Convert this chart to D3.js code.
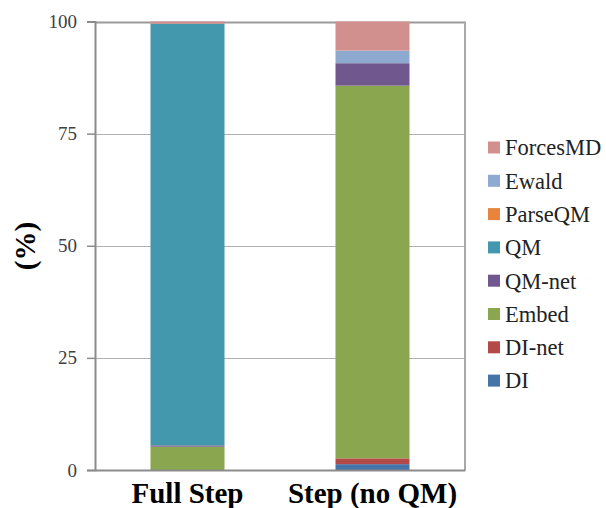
<!DOCTYPE html>
<html><head><meta charset="utf-8">
<script src="https://d3js.org/d3.v7.min.js"></script>
<style>body{margin:0;background:#fff}</style></head>
<body><svg id="c" width="606" height="508"></svg>
<script>
const categories = ["Full Step", "Step (no QM)"];
const seriesNames = ["DI", "DI-net", "Embed", "QM-net", "QM", "ParseQM", "Ewald", "ForcesMD"];
const DI       = [0.0, 1.3];
const DInet    = [0.0, 1.3];
const Embed    = [5.2, 83.1];
const QMnet    = [0.3, 5.0];
const QM       = [94.0, 0.0];
const ParseQM  = [0.0, 0.0];
const Ewald    = [0.0, 2.8];
const ForcesMD = [0.5, 6.5];
const yTicks = [0, 25, 50, 75, 100];
const colors = ["#4574a8", "#b34a47", "#8aa64f", "#70578d", "#4398ae", "#e8843c", "#8faad0", "#d18f8e"];

const seriesVals = [DI, DInet, Embed, QMnet, QM, ParseQM, Ewald, ForcesMD];
const rows = categories.map((c, i) => {
  const r = {cat: c};
  seriesNames.forEach((s, k) => r[s] = seriesVals[k][i]);
  return r;
});
const stack = d3.stack().keys(seriesNames)(rows);

const FONT = '"Liberation Serif"';
const svg = d3.select("#c");
const L = 95, R = 465, T = 21.5, B = 470;
const x = d3.scaleBand().domain(categories).range([L, R]);
const y = d3.scaleLinear().domain([0, 100]).range([B, T]);

svg.append("g").selectAll("line").data(yTicks.filter(t => t > 0)).join("line")
  .attr("x1", L).attr("x2", R).attr("y1", d => Math.round(y(d)) + 0.5).attr("y2", d => Math.round(y(d)) + 0.5)
  .attr("stroke", d => d === 100 ? "#9a9a9a" : "#b0b0b0").attr("stroke-width", d => d === 100 ? 2 : 1);
svg.append("line").attr("x1", R).attr("x2", R).attr("y1", T).attr("y2", B)
  .attr("stroke", "#a8a8a8").attr("stroke-width", 2);

const bw = x.bandwidth() * 0.4;
svg.append("g").selectAll("g").data(stack).join("g")
  .attr("fill", (d, i) => colors[i])
  .selectAll("rect").data(d => d).join("rect")
  .attr("x", d => x(d.data.cat) + (x.bandwidth() - bw) / 2)
  .attr("width", bw)
  .attr("y", d => y(d[1]))
  .attr("height", d => Math.max(0, y(d[0]) - y(d[1])));

const ya = svg.append("g").attr("transform", `translate(${L},0)`)
  .call(d3.axisLeft(y).tickValues(yTicks).tickSize(8).tickPadding(10));
ya.select(".domain").attr("stroke", "#8c8c8c").attr("stroke-width", 2);
ya.selectAll(".tick line").attr("stroke", "#8c8c8c").attr("stroke-width", 1.5);
ya.selectAll("text").style("font-family", FONT).style("font-size", "19px").attr("fill", "#404040");

const xa = svg.append("g").attr("transform", `translate(0,${B})`)
  .call(d3.axisBottom(x).tickSize(0).tickPadding(12));
xa.select(".domain").attr("stroke", "#8c8c8c").attr("stroke-width", 2);
xa.selectAll("text").style("font-family", FONT).style("font-size", "29px")
  .style("font-weight", "bold").attr("fill", "#000");

svg.append("text").attr("transform", "translate(35,246) rotate(-90)")
  .attr("text-anchor", "middle").style("font-family", FONT).style("font-size", "29px")
  .style("font-weight", "bold").text("(%)");

const legendOrder = seriesNames.slice().reverse();
const lg = svg.append("g").selectAll("g").data(legendOrder).join("g")
  .attr("transform", (d, i) => `translate(488,${147.5 + i * 33.3})`);
lg.append("rect").attr("x", 0).attr("y", -6).attr("width", 12).attr("height", 12)
  .attr("fill", d => colors[seriesNames.indexOf(d)]);
lg.append("text").attr("x", 17).attr("y", 0).attr("dy", "0.35em")
  .style("font-family", FONT).style("font-size", "22.5px").attr("fill", "#222").text(d => d);
</script></body></html>
